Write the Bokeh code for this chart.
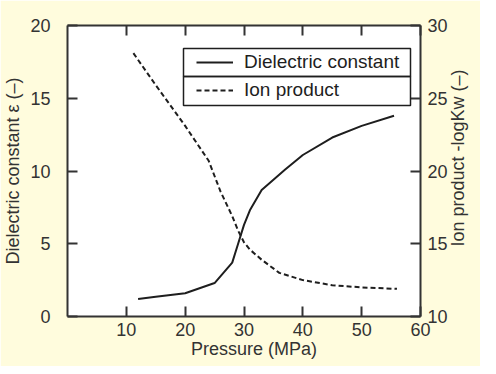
import math
from bokeh.plotting import figure
from bokeh.models import (Range1d, LinearAxis, FixedTicker, Legend, LegendItem,
                          BoxAnnotation)
from bokeh.embed import file_html
from bokeh.resources import INLINE

# ---- data ----
pressure_eps = [12, 15, 20, 25, 28, 29, 30, 31, 33, 35, 37, 40, 45, 50, 55.5]
dielectric = [1.2, 1.35, 1.6, 2.3, 3.7, 5.0, 6.3, 7.3, 8.7, 9.4, 10.1, 11.1, 12.3, 13.1, 13.8]

pressure_ion = [11.2, 15, 20, 24, 26, 28, 29, 30, 31, 33, 36, 40, 45, 50, 56]
ion_product = [28.1, 25.9, 23.1, 20.7, 18.6, 16.9, 15.9, 15.1, 14.6, 13.9, 13.0, 12.5, 12.15, 12.0, 11.9]

x_ticks = [10, 20, 30, 40, 50, 60]
left_ticks = [0, 5, 10, 15, 20]
right_ticks = [10, 15, 20, 25, 30]

series_labels = ["Dielectric constant", "Ion product"]
NB = "\u00a0"
x_title = NB * 4 + "Pressure (MPa)"
left_title = "Dielectric constant \u03b5 (\u2013)"
right_title_text = "Ion product -logKw (\u2013)"

FONT = "Liberation Sans"
CREAM = "#FFFCDD"
INK = "#1e1e1e"
AXC = "#333333"

p = figure(width=480, height=366, output_backend="svg", toolbar_location=None,
           x_range=Range1d(0, 60), y_range=Range1d(0, 20),
           min_border_left=65, min_border_right=57, min_border_top=25, min_border_bottom=50,
           background_fill_color="white", border_fill_color=CREAM,
           outline_line_color=None)
p.grid.visible = False
p.extra_y_ranges = {"ion": Range1d(10, 30)}

def style_axis(ax, ticks, standoff, title=None, title_standoff=0, show_labels=True):
    ax.ticker = FixedTicker(ticks=ticks)
    ax.major_tick_in = 10
    ax.major_tick_out = 0
    ax.minor_tick_line_color = None
    ax.major_tick_line_color = AXC
    ax.major_tick_line_width = 2
    ax.axis_line_color = AXC
    ax.axis_line_width = 2
    ax.major_label_standoff = standoff
    ax.major_label_text_font = FONT
    if show_labels:
        ax.major_label_text_font_size = "18px"
        ax.major_label_text_color = AXC
    else:
        ax.major_label_text_font_size = "0px"
        ax.major_label_text_color = None
    if title:
        ax.axis_label = title
        ax.axis_label_standoff = title_standoff
        ax.axis_label_text_font = FONT
        ax.axis_label_text_font_size = "18px"
        ax.axis_label_text_font_style = "normal"
        ax.axis_label_text_color = AXC

style_axis(p.xaxis[0], x_ticks, 6, x_title, 0)
style_axis(p.yaxis[0], left_ticks, 17, left_title, 4)

right_ax = LinearAxis(y_range_name="ion")
props = right_ax.properties()
if "axis_label_orientation" in props and "axis_label_align" in props:
    style_axis(right_ax, right_ticks, 7, NB * 14 + right_title_text, 7)
    right_ax.axis_label_orientation = math.pi / 2
    right_ax.axis_label_align = "start"
else:
    style_axis(right_ax, right_ticks, 7, right_title_text, 7)
p.add_layout(right_ax, "right")

top_ax = LinearAxis()
style_axis(top_ax, x_ticks, 0, show_labels=False)
p.add_layout(top_ax, "above")

r1 = p.line(pressure_eps, dielectric, line_color=INK, line_width=2)
r2 = p.line(pressure_ion, ion_product, y_range_name="ion", line_color=INK,
            line_width=2, line_dash="5 3")

legend = Legend(items=[LegendItem(label=series_labels[0], renderers=[r1]),
                       LegendItem(label=series_labels[1], renderers=[r2])],
                location=(129, 212), orientation="vertical", padding=0, spacing=0,
                margin=0, glyph_width=37, glyph_height=28, label_height=28,
                label_standoff=11, border_line_color=None, background_fill_alpha=0,
                label_text_font=FONT, label_text_font_size="19px",
                label_text_color=INK)
p.add_layout(legend, "center")

for top, bottom in [(268, 240), (240, 211)]:
    p.add_layout(BoxAnnotation(left=116, right=343, top=top, bottom=bottom,
                               left_units="screen", right_units="screen",
                               top_units="screen", bottom_units="screen",
                               fill_color=None, fill_alpha=0, line_color=INK,
                               line_alpha=1, line_width=1.5))

open("out.html", "w").write(file_html(p, INLINE))
